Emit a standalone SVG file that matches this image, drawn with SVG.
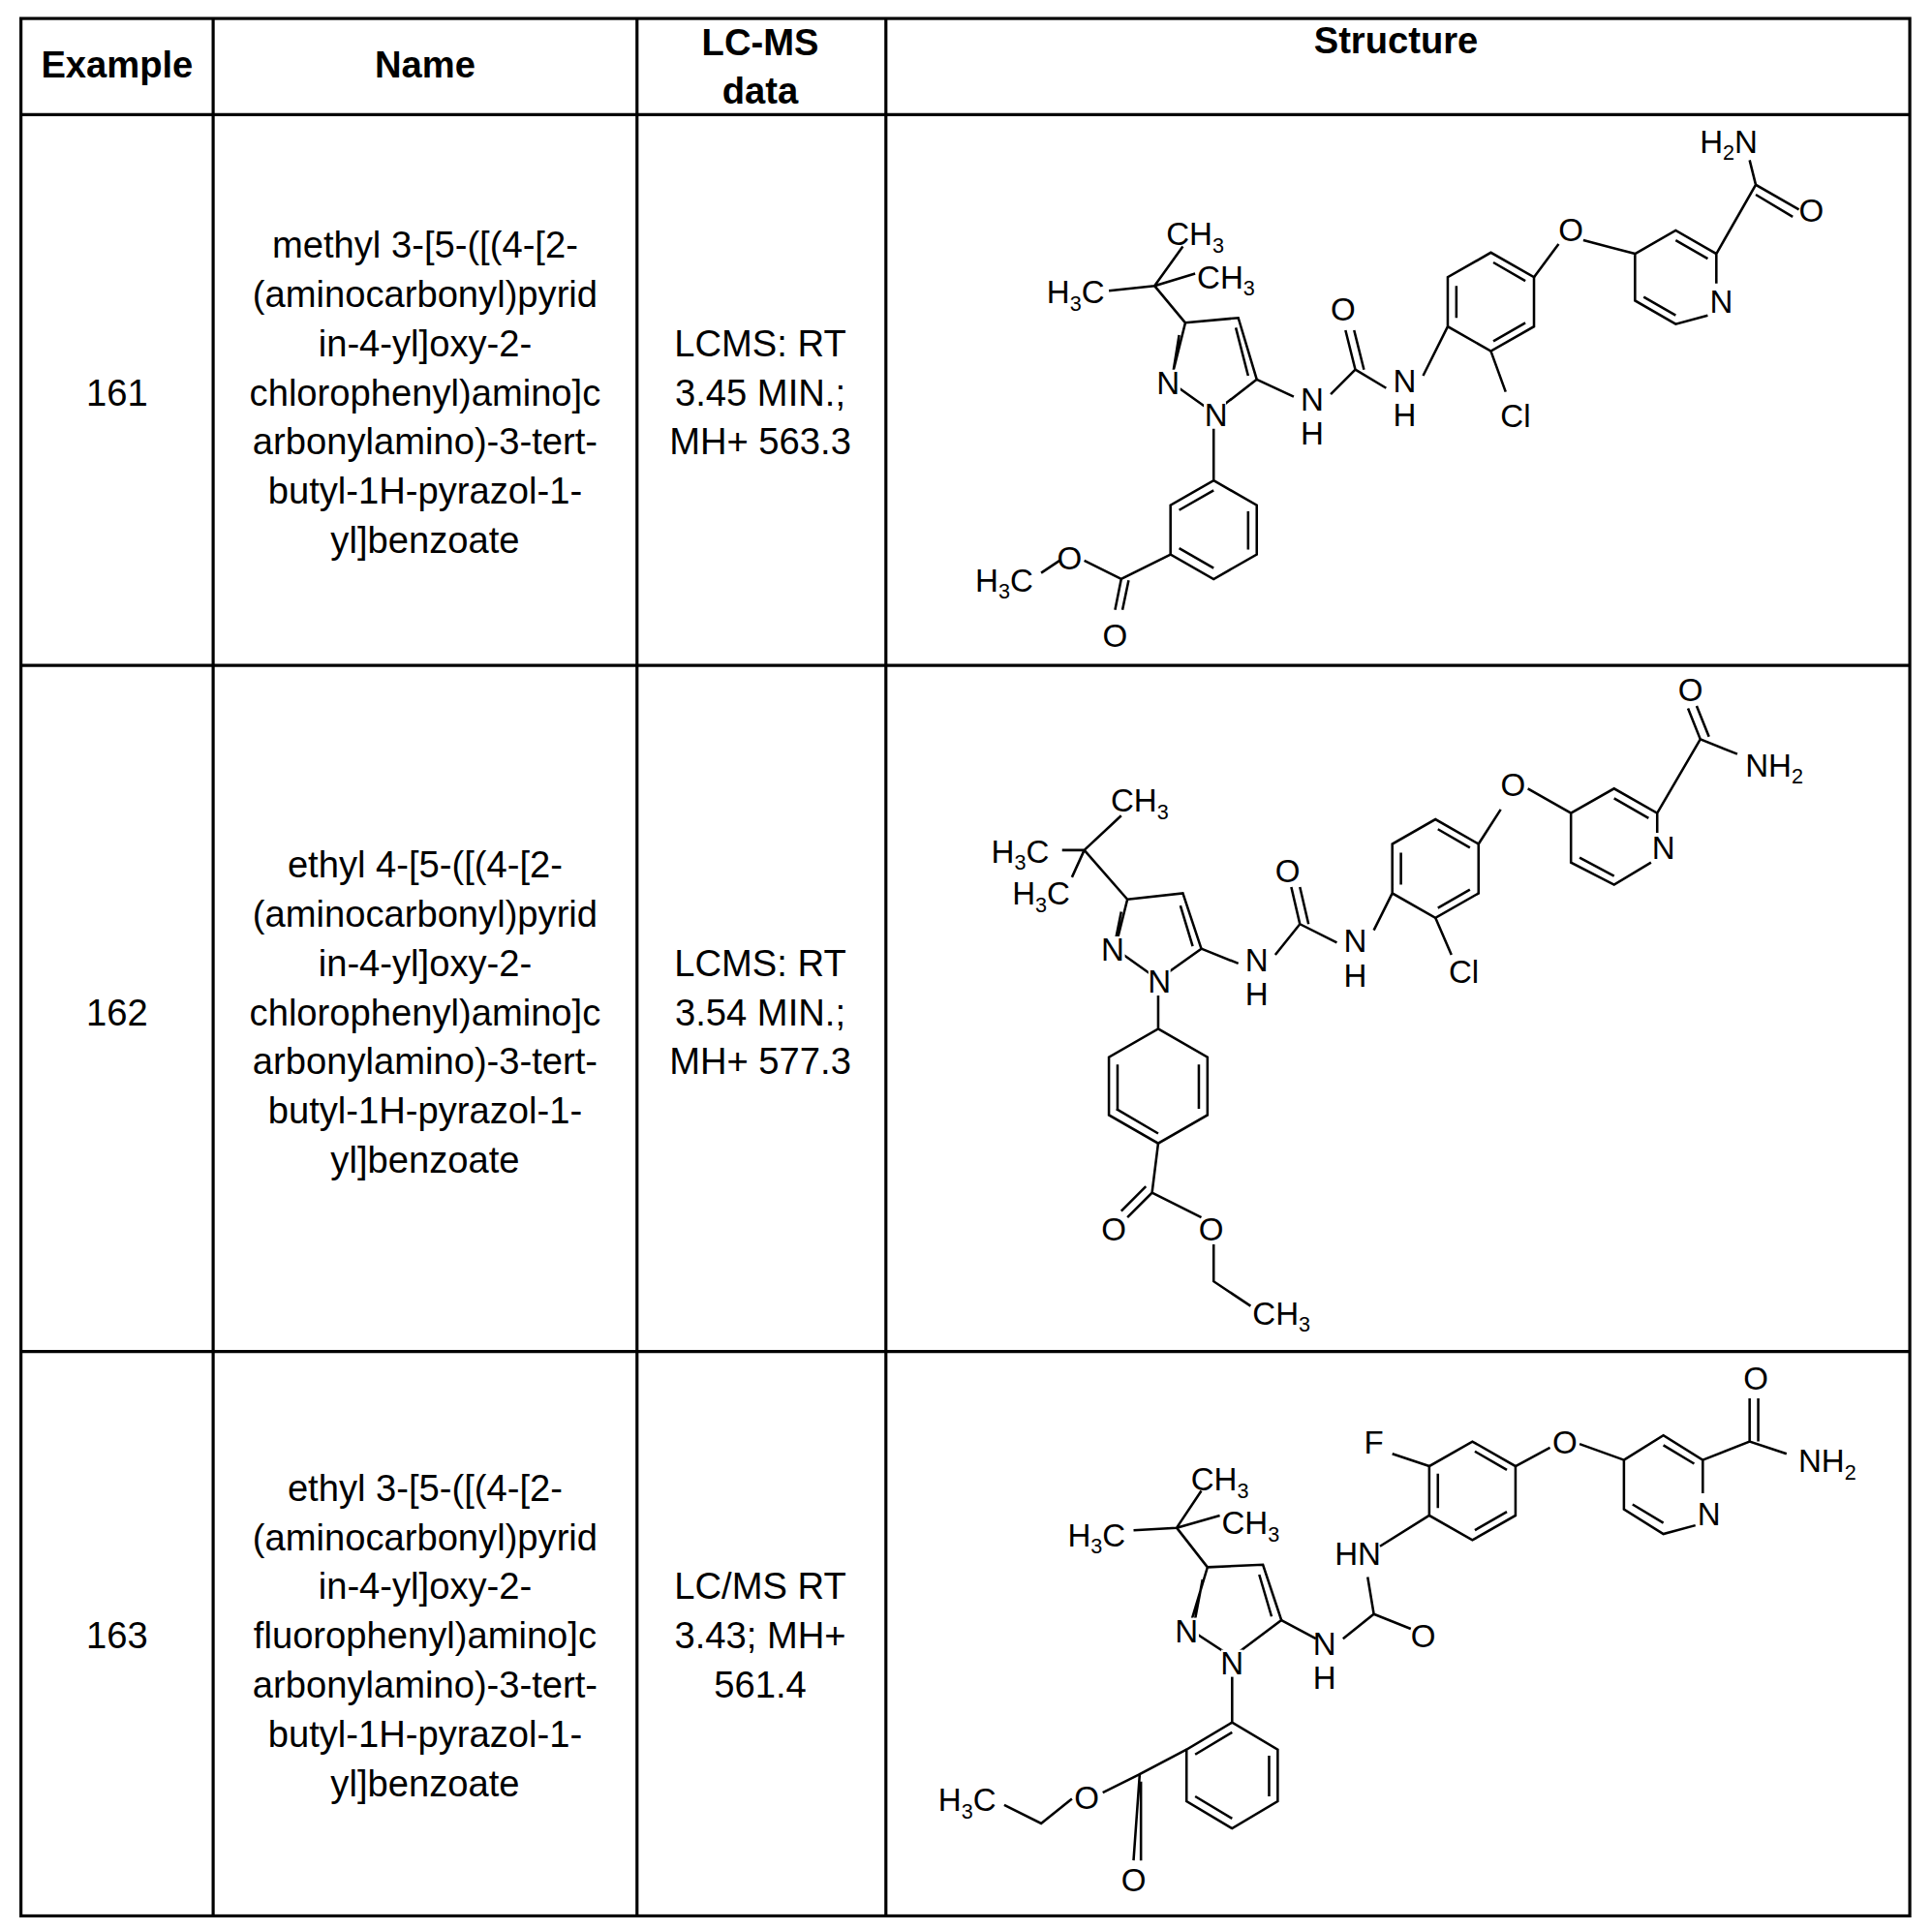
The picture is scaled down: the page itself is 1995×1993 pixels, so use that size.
<svg xmlns="http://www.w3.org/2000/svg" width="1995" height="1993" viewBox="0 0 1995 1993">
<style>
.g{stroke:#000;stroke-width:2;fill:none}
.t{font-family:"Liberation Sans",Arial,sans-serif;font-size:30px;fill:#000;text-anchor:middle}
.h{font-weight:bold}
.a{font-family:"Liberation Sans",Arial,sans-serif;font-size:26px;fill:#000;text-anchor:middle}
.s{font-size:17px}
.bg{fill:#fff;stroke:none}
</style>
<rect width="1995" height="1993" fill="#fff"/>
<g transform="scale(1.2723)">
<g id="grid" stroke="#000" stroke-width="2.5" fill="none">
<rect x="17" y="15" width="1533" height="1540"/>
<line x1="173" y1="15" x2="173" y2="1555"/><line x1="517" y1="15" x2="517" y2="1555"/><line x1="719" y1="15" x2="719" y2="1555"/>
<line x1="17" y1="93" x2="1550" y2="93"/><line x1="17" y1="540" x2="1550" y2="540"/><line x1="17" y1="1097" x2="1550" y2="1097"/>
</g>
<g id="header">
<text class="t h" x="95" y="63">Example</text><text class="t h" x="345" y="63">Name</text>
<text class="t h" x="617" y="45">LC-MS</text><text class="t h" x="617" y="84">data</text>
<text class="t h" x="1133" y="43">Structure</text>
</g>
<g id="row161">
<text class="t" x="95" y="329">161</text>
<text class="t" x="345"><tspan x="345" y="209">methyl 3-[5-([(4-[2-</tspan><tspan x="345" y="249">(aminocarbonyl)pyrid</tspan><tspan x="345" y="289">in-4-yl]oxy-2-</tspan><tspan x="345" y="329">chlorophenyl)amino]c</tspan><tspan x="345" y="369">arbonylamino)-3-tert-</tspan><tspan x="345" y="409">butyl-1H-pyrazol-1-</tspan><tspan x="345" y="449">yl]benzoate</tspan></text>
<text class="t" x="617"><tspan x="617" y="289">LCMS:  RT</tspan><tspan x="617" y="329">3.45 MIN.;</tspan><tspan x="617" y="369">MH+ 563.3</tspan></text>
</g>
<g id="row162">
<text class="t" x="95" y="832">162</text>
<text class="t"><tspan x="345" y="712">ethyl 4-[5-([(4-[2-</tspan><tspan x="345" y="752">(aminocarbonyl)pyrid</tspan><tspan x="345" y="792">in-4-yl]oxy-2-</tspan><tspan x="345" y="832">chlorophenyl)amino]c</tspan><tspan x="345" y="872">arbonylamino)-3-tert-</tspan><tspan x="345" y="912">butyl-1H-pyrazol-1-</tspan><tspan x="345" y="952">yl]benzoate</tspan></text>
<text class="t"><tspan x="617" y="792">LCMS:  RT</tspan><tspan x="617" y="832">3.54 MIN.;</tspan><tspan x="617" y="872">MH+ 577.3</tspan></text>
</g>
<g id="row163">
<text class="t" x="95" y="1338">163</text>
<text class="t"><tspan x="345" y="1218">ethyl 3-[5-([(4-[2-</tspan><tspan x="345" y="1258">(aminocarbonyl)pyrid</tspan><tspan x="345" y="1298">in-4-yl]oxy-2-</tspan><tspan x="345" y="1338">fluorophenyl)amino]c</tspan><tspan x="345" y="1378">arbonylamino)-3-tert-</tspan><tspan x="345" y="1418">butyl-1H-pyrazol-1-</tspan><tspan x="345" y="1458">yl]benzoate</tspan></text>
<text class="t"><tspan x="617" y="1298">LC/MS RT</tspan><tspan x="617" y="1338">3.43; MH+</tspan><tspan x="617" y="1378">561.4</tspan></text>
</g>

<g id="struct161">
<path class="g" d="M937 232 L962 262 M962 262 L1005 258 L1020 308 L985 335 L950 310 Z M957 272 L952 303 M1003 266 L1013 305"/>
<path class="g" d="M937 232 L960 200 M937 232 L970 222 M937 232 L900 236"/>
<path class="g" d="M985 345 L985 390 M985 390 L1020 410 L1020 450 L985 470 L950 450 L950 410 Z M1013 415 L1013 446 M985 461 L957 445 M957 414 L985 398"/>
<path class="g" d="M950 450 L910 470 L905 495 M916 471 L911 495 M910 470 L880 455 M860 455 L845 465"/>
<path class="g" d="M1020 308 L1050 322 M1080 320 L1100 300 L1125 315 M1100 300 L1092 268 M1107 300 L1099 268"/>
<path class="g" d="M1155 305 L1175 265 M1175 265 L1175 225 L1210 205 L1245 225 L1245 265 L1210 285 Z M1182 258 L1182 232 M1212 213 L1238 228 M1238 262 L1212 277"/>
<path class="g" d="M1210 285 L1222 318 M1245 225 L1265 198 M1285 195 L1327 206 M1327 206 L1360 187 L1393 206 L1393 230 M1386 256 L1360 263 L1327 244 L1327 206 M1360 195 L1386 210 M1334 241 L1360 256 M1393 206 L1425 150 L1460 170 M1425 158 L1455 176 M1425 150 L1420 130"/>
<text class="a" x="970" y="199">CH<tspan class="s" dy="6">3</tspan></text>
<text class="a" x="995" y="234">CH<tspan class="s" dy="6">3</tspan></text>
<text class="a" x="873" y="246">H<tspan class="s" dy="6">3</tspan><tspan dy="-6">C</tspan></text>
<rect class="bg" x="940" y="300" width="18" height="22"/><text class="a" x="948" y="320">N</text>
<rect class="bg" x="977" y="326" width="18" height="22"/><text class="a" x="987" y="346">N</text>
<text class="a" x="868" y="462">O</text><text class="a" x="815" y="480">H<tspan class="s" dy="6">3</tspan><tspan dy="-6">C</tspan></text>
<text class="a" x="905" y="525">O</text>
<text class="a" x="1065" y="333">N</text><text class="a" x="1065" y="361">H</text>
<text class="a" x="1090" y="260">O</text>
<text class="a" x="1140" y="318">N</text><text class="a" x="1140" y="346">H</text>
<text class="a" x="1230" y="347">Cl</text>
<text class="a" x="1275" y="196">O</text>
<text class="a" x="1397" y="254">N</text>
<text class="a" x="1470" y="180">O</text>
<text class="a" x="1403" y="124">H<tspan class="s" dy="6">2</tspan><tspan dy="-6">N</tspan></text>
</g>

<g id="struct162">
<path class="g" d="M880 690 L915 730 M915 730 L960 725 L975 770 L940 795 L905 770 Z M910 740 L905 765 M958 735 L968 768"/>
<path class="g" d="M880 690 L910 662 M880 690 L862 690 M880 690 L870 712"/>
<path class="g" d="M940 805 L940 835 M940 835 L980 858 L980 905 L940 928 L900 905 L900 858 Z M973 864 L973 900 M907 864 L907 900 M940 920 L906 900"/>
<path class="g" d="M940 928 L935 968 L915 988 M930 963 L910 983 M935 968 L975 988 M985 1010 L985 1040 L1015 1060"/>
<path class="g" d="M975 770 L1005 782 M1035 775 L1055 750 L1085 765 M1055 750 L1048 720 M1062 750 L1055 720"/>
<path class="g" d="M1115 755 L1130 725 M1130 725 L1130 685 L1165 665 L1200 685 L1200 725 L1165 745 Z M1137 718 L1137 692 M1167 673 L1193 688 M1193 722 L1167 737"/>
<path class="g" d="M1165 745 L1178 775 M1200 685 L1218 657 M1240 640 L1275 660 M1275 660 L1310 640 L1345 660 L1345 676 M1340 700 L1310 718 L1275 700 L1275 660 M1310 648 L1338 664 M1282 696 L1310 711 M1345 660 L1380 600 L1410 612 M1380 600 L1370 575 M1387 598 L1377 573"/>
<text class="a" x="925" y="659">CH<tspan class="s" dy="6">3</tspan></text>
<text class="a" x="828" y="700">H<tspan class="s" dy="6">3</tspan><tspan dy="-6">C</tspan></text>
<text class="a" x="845" y="734">H<tspan class="s" dy="6">3</tspan><tspan dy="-6">C</tspan></text>
<rect class="bg" x="895" y="760" width="18" height="22"/><text class="a" x="903" y="780">N</text>
<rect class="bg" x="932" y="786" width="18" height="22"/><text class="a" x="941" y="806">N</text>
<text class="a" x="904" y="1007">O</text><text class="a" x="983" y="1007">O</text>
<text class="a" x="1040" y="1075">CH<tspan class="s" dy="6">3</tspan></text>
<text class="a" x="1020" y="788">N</text><text class="a" x="1020" y="816">H</text>
<text class="a" x="1045" y="716">O</text>
<text class="a" x="1100" y="773">N</text><text class="a" x="1100" y="801">H</text>
<text class="a" x="1188" y="798">Cl</text>
<text class="a" x="1228" y="646">O</text>
<text class="a" x="1350" y="697">N</text>
<text class="a" x="1372" y="569">O</text>
<text class="a" x="1440" y="630">NH<tspan class="s" dy="6">2</tspan></text>
</g>

<g id="struct163">
<path class="g" d="M955 1240 L980 1272 M980 1272 L1025 1270 L1040 1315 L1000 1345 L965 1322 Z M976 1282 L970 1314 M1022 1278 L1032 1312"/>
<path class="g" d="M955 1240 L975 1210 M955 1240 L990 1230 M955 1240 L920 1242"/>
<path class="g" d="M1000 1358 L1000 1398 M1000 1398 L1037 1420 L1037 1462 L1000 1484 L963 1462 L963 1420 Z M1030 1425 L1030 1458 M1000 1476 L970 1458 M970 1424 L1000 1406"/>
<path class="g" d="M963 1420 L925 1440 L920 1510 M926 1446 L926 1510 M925 1440 L895 1455 M870 1460 L845 1480 L815 1465"/>
<path class="g" d="M1040 1315 L1068 1330 M1090 1330 L1115 1310 L1145 1322 M1115 1310 L1110 1280"/>
<path class="g" d="M1120 1255 L1160 1230 M1160 1230 L1160 1190 L1195 1170 L1230 1190 L1230 1230 L1195 1250 Z M1167 1224 L1167 1196 M1197 1178 L1223 1193 M1223 1227 L1197 1242"/>
<path class="g" d="M1160 1190 L1130 1180 M1230 1190 L1258 1175 M1282 1172 L1318 1185 M1318 1185 L1350 1165 L1382 1185 L1382 1212 M1376 1238 L1350 1245 L1318 1225 L1318 1185 M1350 1173 L1375 1188 M1325 1221 L1350 1236 M1382 1185 L1420 1170 L1450 1180 M1420 1170 L1420 1135 M1427 1170 L1427 1135"/>
<text class="a" x="990" y="1210">CH<tspan class="s" dy="6">3</tspan></text>
<text class="a" x="1015" y="1245">CH<tspan class="s" dy="6">3</tspan></text>
<text class="a" x="890" y="1255">H<tspan class="s" dy="6">3</tspan><tspan dy="-6">C</tspan></text>
<rect class="bg" x="955" y="1313" width="18" height="22"/><text class="a" x="963" y="1333">N</text>
<rect class="bg" x="991" y="1339" width="18" height="22"/><text class="a" x="1000" y="1359">N</text>
<text class="a" x="785" y="1470">H<tspan class="s" dy="6">3</tspan><tspan dy="-6">C</tspan></text>
<text class="a" x="882" y="1468">O</text><text class="a" x="920" y="1535">O</text>
<text class="a" x="1075" y="1343">N</text><text class="a" x="1075" y="1371">H</text>
<text class="a" x="1155" y="1337">O</text>
<text class="a" x="1102" y="1270">HN</text>
<text class="a" x="1115" y="1180">F</text>
<text class="a" x="1270" y="1180">O</text>
<text class="a" x="1387" y="1238">N</text>
<text class="a" x="1425" y="1128">O</text>
<text class="a" x="1483" y="1195">NH<tspan class="s" dy="6">2</tspan></text>
</g>
</g>
</svg>
